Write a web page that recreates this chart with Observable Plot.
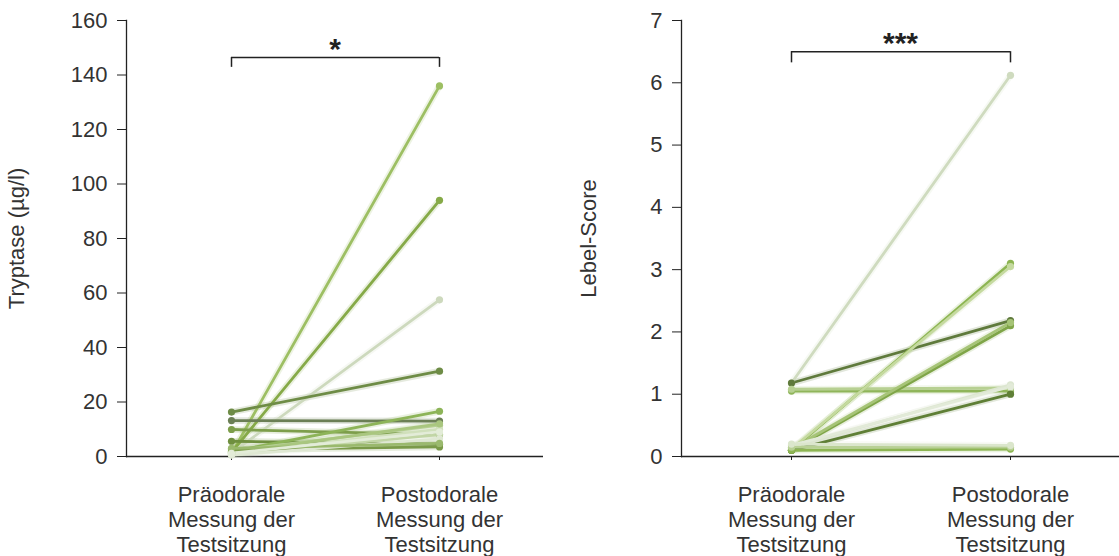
<!DOCTYPE html>
<html><head><meta charset="utf-8">
<script src="https://cdn.jsdelivr.net/npm/d3@7"></script>
<script src="https://cdn.jsdelivr.net/npm/@observablehq/plot@0.6"></script>
<style>
body{margin:0;background:#fff;}
#wrap{display:flex;width:1119px;height:556px;overflow:hidden;}
</style></head><body><div id="wrap"></div>
<script>
const categories = ["Präodorale\nMessung der\nTestsitzung", "Postodorale\nMessung der\nTestsitzung"];

const tryptasePre  = [1.0, 1.5, 1.2, 16.3, 13.2, 9.9, 5.6, 1.8, 2.0, 1.0, 0.8, 1.5, 2.5, 0.5, 3.0, 1.2];
const tryptasePost = [136, 94, 57.5, 31.3, 13.0, 8.0, 4.5, 16.6, 11.5, 10.0, 8.0, 12.0, 3.5, 6.5, 4.8, 9.0];
const tryptaseColors = ["#9dbf63","#86aa48","#cdd9bd","#6e8c46","#6b7f55","#7d9e4b","#6f8f3f","#8db458",
                        "#b5cf93","#d0e0bb","#c2d6a6","#a9c67f","#7a9a48","#dfe8d3","#9ab96d","#e3ecd8"];
const tryptaseTicks = [0, 20, 40, 60, 80, 100, 120, 140, 160];

const lebelPre  = [1.18, 1.18, 1.05, 1.08, 0.10, 0.12, 0.10, 0.12, 0.10, 0.15, 0.18, 0.10, 0.15, 0.20];
const lebelPost = [6.12, 2.18, 1.05, 1.10, 3.10, 3.05, 2.10, 2.15, 1.00, 1.15, 1.12, 0.12, 0.15, 0.18];
const lebelColors = ["#cfdbbf","#5f7a3c","#8fb55a","#b7d092","#8db552","#c5da9f","#7fa548","#a6c477",
                     "#5f7f36","#dce6d0","#e2ead8","#8db552","#b8d095","#dbe6cc"];
const lebelTicks = [0, 1, 2, 3, 4, 5, 6, 7];

const tryptaseSig = "*";
const lebelSig = "***";

function panel(o) {
  const rows = [];
  o.pre.forEach((v, i) => {
    rows.push({id: i, x: categories[0], y: v, c: o.colors[i]});
    rows.push({id: i, x: categories[1], y: o.post[i], c: o.colors[i]});
  });
  const bracket = [{y: o.bracketY, a: categories[0], b: categories[1]}];
  const ends = [{x: categories[0]}, {x: categories[1]}];
  return Plot.plot({
    width: o.width, height: 556,
    marginLeft: o.marginLeft, marginRight: o.marginRight, marginTop: 20, marginBottom: 100,
    style: {fontFamily: "'Liberation Sans', Arial, sans-serif", fontSize: "22px", color: "#333", background: "white", overflow: "visible"},
    x: {domain: categories, type: "point", padding: 0.5, label: null},
    y: {domain: [0, o.yMax]},
    color: {type: "identity"},
    marks: [
      Plot.frame({anchor: "left", stroke: "#222", strokeWidth: 1.3}),
      Plot.axisY({ticks: o.ticks, tickFormat: "d", tickSize: 9, tickPadding: 10, label: o.label,
                  labelAnchor: "center", labelArrow: "none", labelOffset: o.labelOffset,
                  stroke: "#222", fill: "#333", fontSize: 22}),
      Plot.axisX({tickSize: 4, tickPadding: 24, lineHeight: 1.13, fontSize: 22, stroke: "#222", fill: "#333", label: null}),
      Plot.ruleY([0], {stroke: "#222", strokeWidth: 1.3}),
      Plot.line(rows, {x: "x", y: "y", z: "id", stroke: "c", strokeWidth: 6.5, strokeOpacity: 0.18}),
      Plot.line(rows, {x: "x", y: "y", z: "id", stroke: "c", strokeWidth: 2.8}),
      Plot.dot(rows, {x: "x", y: "y", fill: "c", r: 3.6}),
      Plot.ruleY(bracket, {y: "y", x1: "a", x2: "b", stroke: "#222", strokeWidth: 1.5}),
      Plot.ruleX(ends, {x: "x", y1: o.bracketY - o.bracketTick, y2: o.bracketY, stroke: "#222", strokeWidth: 1.5}),
      Plot.text([o.sig], {text: d => d, y: o.bracketY, frameAnchor: "middle", lineAnchor: "bottom",
                          dy: 1, fontSize: 30, fontWeight: "bold", fill: "#222"})
    ]
  });
}

const wrap = document.getElementById("wrap");
wrap.append(panel({
  pre: tryptasePre, post: tryptasePost, colors: tryptaseColors, ticks: tryptaseTicks, yMax: 160,
  label: "Tryptase (µg/l)", sig: tryptaseSig, bracketY: 146.4, bracketTick: 3.6,
  width: 560, marginLeft: 126, marginRight: 17, labelOffset: 118
}));
wrap.append(panel({
  pre: lebelPre, post: lebelPost, colors: lebelColors, ticks: lebelTicks, yMax: 7,
  label: "Lebel-Score", sig: lebelSig, bracketY: 6.5, bracketTick: 0.18,
  width: 559, marginLeft: 121, marginRight: 0, labelOffset: 101
}));
</script>
</body></html>
